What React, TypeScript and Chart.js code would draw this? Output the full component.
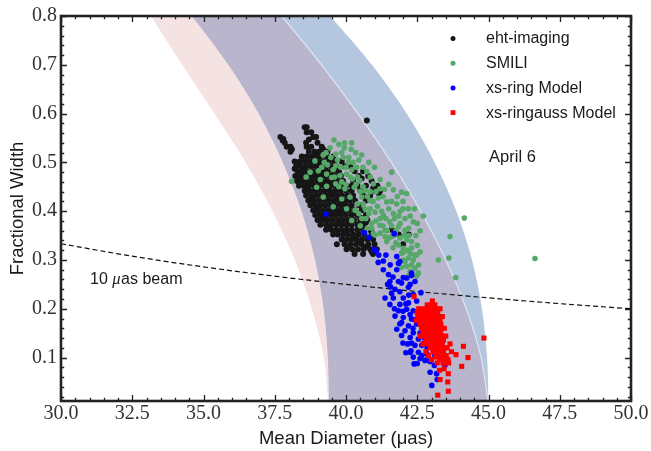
import React, { useEffect, useRef } from 'react';
import { Chart, registerables } from 'chart.js';

Chart.register(...registerables);

const X_TICKS = [30, 32.5, 35, 37.5, 40, 42.5, 45, 47.5, 50];
const Y_TICKS = [0.1, 0.2, 0.3, 0.4, 0.5, 0.6, 0.7, 0.8];
const X_MIN = 30, X_MAX = 50, Y_MIN = 0.011, Y_MAX = 0.8;
const X_MINOR_STEP = 0.5, Y_MINOR_STEP = 0.02;

const SERIES_LABELS = ['eht-imaging', 'SMILI', 'xs-ring Model', 'xs-ringauss Model'];
const X_TITLE = 'Mean Diameter (\u03bcas)';
const Y_TITLE = 'Fractional Width';
const DATE_LABEL = 'April 6';
const BEAM_LABEL = ['10 ', '\u03bc', 'as beam'];

// eht-imaging: rows of [y, x1, x2, ...]
const ehtRows: number[][] = [
  [0.586, 40.73],
  [0.572, 38.55, 38.62],
  [0.562, 38.62, 38.78],
  [0.552, 37.70, 38.85, 38.95],
  [0.545, 37.78],
  [0.540, 37.85, 38.6, 39.0],
  [0.532, 37.92, 38.05, 38.62, 38.78, 39.15],
  [0.522, 38.05, 38.7, 38.9, 39.05, 39.35],
  [0.512, 38.45, 38.62, 38.8, 38.95, 39.1, 39.3, 39.55],
  [0.502, 38.2, 38.38, 38.55, 38.72, 38.88, 39.05, 39.22, 39.4, 39.6, 39.85],
  [0.492, 38.25, 38.42, 38.6, 38.78, 38.95, 39.12, 39.3, 39.48, 39.65, 39.95, 40.15],
  [0.482, 38.3, 38.48, 38.65, 38.82, 39.0, 39.18, 39.35, 39.55, 39.75, 40.3, 40.6],
  [0.472, 38.22, 38.4, 38.58, 38.75, 38.92, 39.1, 39.28, 39.46, 39.64, 39.82, 40.45, 40.78],
  [0.462, 38.28, 38.45, 38.62, 38.8, 38.98, 39.16, 39.34, 39.52, 39.7, 39.9, 40.25, 40.9],
  [0.452, 38.35, 38.52, 38.7, 38.88, 39.06, 39.24, 39.42, 39.6, 39.8, 40.0, 40.4, 40.7, 41.1],
  [0.442, 38.55, 38.72, 38.9, 39.08, 39.26, 39.44, 39.62, 39.8, 40.0, 40.2, 40.5, 41.0, 41.2],
  [0.432, 38.6, 38.78, 38.96, 39.14, 39.32, 39.5, 39.68, 39.86, 40.05, 40.25, 40.6, 40.85],
  [0.422, 38.68, 38.86, 39.04, 39.22, 39.4, 39.58, 39.76, 39.94, 40.12, 40.32, 40.7],
  [0.412, 38.75, 38.92, 39.1, 39.28, 39.46, 39.64, 39.82, 40.0, 40.2, 40.45],
  [0.402, 38.85, 39.02, 39.2, 39.38, 39.56, 39.74, 39.92, 40.1, 40.3, 40.55],
  [0.392, 38.92, 39.1, 39.28, 39.46, 39.64, 39.82, 40.0, 40.2, 40.4, 40.7],
  [0.382, 39.0, 39.18, 39.36, 39.54, 39.72, 39.9, 40.08, 40.28, 40.5, 40.75],
  [0.372, 39.1, 39.3, 39.48, 39.66, 39.84, 40.02, 40.2, 40.4, 40.62],
  [0.362, 39.3, 39.48, 39.66, 39.84, 40.02, 40.2, 40.4, 40.6, 40.85, 41.6],
  [0.352, 39.55, 39.72, 39.9, 40.08, 40.26, 40.45, 40.65, 40.9, 41.85, 42.2],
  [0.342, 39.85, 40.02, 40.2, 40.38, 40.56, 40.75, 40.95],
  [0.332, 39.68, 39.95, 40.15, 40.35, 40.55, 40.78, 41.0, 42.0],
  [0.322, 40.02, 40.22, 40.42, 40.62, 40.85, 41.08],
  [0.312, 40.3, 40.6, 40.95],
];
const ehtExtra: number[][] = [
  [38.3, 0.497], [38.5, 0.487], [38.7, 0.477], [38.9, 0.467], [39.1, 0.457], [39.3, 0.447],
  [39.5, 0.437], [39.7, 0.427], [39.9, 0.417], [40.1, 0.407], [40.3, 0.397], [40.5, 0.387],
  [40.7, 0.377], [40.9, 0.357], [40.3, 0.347], [40.5, 0.337], [40.1, 0.327], [40.7, 0.327],
  [40.9, 0.317], [39.4, 0.367], [39.2, 0.387], [39.0, 0.407], [38.8, 0.427], [38.6, 0.447],
  [38.4, 0.467], [38.2, 0.487], [38.9, 0.507], [39.2, 0.527], [38.7, 0.547], [38.1, 0.527],
  [37.8, 0.548], [39.6, 0.397], [39.8, 0.377], [40.0, 0.357], [40.6, 0.362], [40.2, 0.452],
  [40.55, 0.467], [40.95, 0.447], [41.15, 0.437],
];

// SMILI: [x, y]
const smiliPts: number[][] = [
  [39.58, 0.546], [39.44, 0.530], [39.75, 0.537], [39.94, 0.530], [40.18, 0.527], [40.34, 0.520],
  [40.55, 0.515], [39.64, 0.517], [39.91, 0.510], [38.91, 0.503], [39.24, 0.500], [39.47, 0.510],
  [40.08, 0.500], [39.64, 0.493], [39.82, 0.490], [40.37, 0.490], [40.73, 0.481], [41.60, 0.480],
  [38.74, 0.480], [39.03, 0.483], [39.32, 0.476], [39.50, 0.469], [39.79, 0.473], [40.02, 0.476],
  [40.22, 0.466], [40.49, 0.463], [40.96, 0.456], [38.09, 0.461], [38.97, 0.449], [39.32, 0.451],
  [39.64, 0.456], [39.96, 0.446], [40.29, 0.449], [40.67, 0.442], [41.19, 0.446], [41.66, 0.444],
  [41.95, 0.439], [42.13, 0.436], [39.20, 0.429], [39.85, 0.425], [40.14, 0.429], [40.55, 0.429],
  [40.84, 0.422], [41.13, 0.427], [41.43, 0.419], [41.78, 0.415], [42.19, 0.405], [42.71, 0.390],
  [39.55, 0.409], [40.02, 0.405], [40.32, 0.402], [40.67, 0.405], [41.02, 0.398], [41.31, 0.392],
  [41.66, 0.395], [42.07, 0.385], [40.20, 0.381], [40.55, 0.385], [40.90, 0.375], [41.19, 0.371],
  [41.54, 0.378], [41.84, 0.368], [40.67, 0.358], [41.02, 0.351], [41.37, 0.348], [42.13, 0.341],
  [41.95, 0.314], [42.25, 0.314], [42.48, 0.310], [42.07, 0.297], [42.36, 0.300], [42.13, 0.287],
  [42.42, 0.283], [42.54, 0.273], [42.25, 0.277], [42.19, 0.267], [42.48, 0.267], [41.84, 0.331],
  [42.01, 0.324], [41.43, 0.338], [41.60, 0.348], [41.37, 0.361], [40.96, 0.354], [41.72, 0.351],
  [42.19, 0.304], [42.36, 0.378], [42.07, 0.361], [42.30, 0.338], [42.60, 0.317],
  [44.15, 0.386], [43.65, 0.348], [43.61, 0.304], [43.24, 0.300], [43.85, 0.264], [46.63, 0.303],
  [39.10, 0.465], [40.00, 0.455], [40.40, 0.470], [40.60, 0.450],
  [40.85, 0.440], [40.40, 0.415], [40.80, 0.395], [41.10, 0.410], [41.30, 0.430], [41.50, 0.405],
  [40.45, 0.395], [40.90, 0.365], [41.20, 0.385], [41.45, 0.360], [41.70, 0.385], [41.90, 0.400],
  [41.60, 0.420], [42.40, 0.405], [39.30, 0.520], [39.85, 0.520], [40.10, 0.510], [38.60, 0.470],
  [39.15, 0.490], [40.60, 0.490], [40.25, 0.500], [41.90, 0.345], [42.20, 0.350], [41.90, 0.375],
  [42.45, 0.350], [42.00, 0.300], [42.30, 0.325],
  [39.35, 0.495], [39.55, 0.485], [39.70, 0.505], [40.00, 0.490], [40.20, 0.485], [40.45, 0.505],
  [40.15, 0.470], [40.35, 0.455], [39.85, 0.460], [39.60, 0.470],
  [39.75, 0.450], [40.50, 0.440], [40.75, 0.430],
  [40.95, 0.420], [41.05, 0.440], [41.35, 0.445], [40.60, 0.415], [40.85, 0.405], [41.25, 0.400],
  [41.40, 0.385], [41.05, 0.380], [40.70, 0.385], [40.50, 0.370], [40.75, 0.365],
  [41.30, 0.370], [41.60, 0.370], [41.75, 0.360], [41.50, 0.345], [41.20, 0.355], [41.75, 0.335],
  [42.05, 0.350], [41.65, 0.325], [41.95, 0.285], [42.30, 0.290], [42.40, 0.310], [42.55, 0.290],
  [42.00, 0.315], [42.15, 0.320], [42.50, 0.330], [41.80, 0.430], [42.00, 0.420], [41.50, 0.455],
  [41.20, 0.465], [40.85, 0.470], [41.00, 0.490], [40.80, 0.500], [39.95, 0.540], [40.20, 0.540],
  [39.20, 0.515],
  [42.25, 0.390], [42.50, 0.375], [42.60, 0.360], [42.20, 0.365], [41.85, 0.390], [42.00, 0.405],
];

// xs-ring Model: [x, y]
const xsRingPts: number[][] = [
  [39.30, 0.394], [40.64, 0.356], [40.81, 0.346], [41.69, 0.354], [40.98, 0.322], [41.05, 0.319],
  [41.13, 0.295], [41.31, 0.298], [41.31, 0.280], [41.49, 0.270], [41.78, 0.280], [41.84, 0.293],
  [41.78, 0.307], [41.89, 0.297], [41.46, 0.250], [41.84, 0.256], [42.01, 0.264], [42.30, 0.268],
  [42.42, 0.256], [42.19, 0.244], [41.72, 0.240], [41.89, 0.235], [41.54, 0.256], [41.95, 0.253],
  [42.13, 0.263], [42.30, 0.273], [41.37, 0.222], [41.66, 0.222], [42.01, 0.222], [42.36, 0.229],
  [42.63, 0.233], [41.54, 0.209], [41.89, 0.209], [42.19, 0.212], [42.48, 0.216], [41.84, 0.196],
  [42.13, 0.199], [42.36, 0.196], [41.72, 0.185], [42.01, 0.182], [42.30, 0.179], [41.89, 0.169],
  [42.19, 0.165], [42.48, 0.169], [41.78, 0.158], [42.07, 0.155], [42.36, 0.151], [42.66, 0.155],
  [41.95, 0.145], [42.25, 0.141], [42.54, 0.138], [42.16, 0.128], [42.42, 0.125], [42.71, 0.128],
  [42.25, 0.111], [42.54, 0.111], [42.83, 0.108], [42.36, 0.101], [42.66, 0.104], [42.77, 0.094],
  [42.39, 0.087], [43.12, 0.104], [43.10, 0.084], [43.18, 0.067], [43.01, 0.043], [43.47, 0.084],
  [42.81, 0.095], [42.28, 0.114], [42.66, 0.125], [42.95, 0.070], [43.20, 0.055],
  [41.60, 0.232], [42.20, 0.228], [41.70, 0.200], [42.00, 0.195], [42.25, 0.188], [42.55, 0.190],
  [42.40, 0.178], [41.95, 0.172], [42.35, 0.160], [42.60, 0.150], [42.00, 0.130], [42.30, 0.130],
  [42.85, 0.120], [42.60, 0.098], [42.95, 0.092], [42.50, 0.088], [41.56, 0.245], [42.25, 0.250],
  [41.65, 0.265], [41.55, 0.290], [41.15, 0.310], [41.40, 0.310], [42.10, 0.210], [42.75, 0.140],
  [42.10, 0.110],
];

// xs-ringauss Model: rows of [y, x1, x2, ...]
const xsRingaussRows: number[][] = [
  [0.225, 42.39],
  [0.216, 43.03],
  [0.208, 42.85, 43.0, 43.12],
  [0.200, 42.55, 42.68, 42.8, 42.92, 43.05, 43.15, 43.3],
  [0.192, 42.5, 42.62, 42.75, 42.88, 43.0, 43.12, 43.22],
  [0.184, 42.52, 42.65, 42.78, 42.9, 43.02, 43.14, 43.26, 43.38],
  [0.176, 42.47, 42.55, 42.68, 42.8, 42.92, 43.05, 43.17, 43.3],
  [0.168, 42.6, 42.72, 42.85, 42.97, 43.1, 43.22, 43.33],
  [0.160, 42.65, 42.78, 42.9, 43.02, 43.14, 43.26, 43.36, 43.45],
  [0.152, 42.7, 42.82, 42.95, 43.07, 43.2, 43.32],
  [0.144, 42.6, 42.75, 42.88, 43.0, 43.12, 43.24, 43.38, 43.5],
  [0.136, 42.8, 42.92, 43.05, 43.17, 43.3, 43.42],
  [0.128, 42.7, 42.88, 43.0, 43.12, 43.25, 43.38, 43.65],
  [0.120, 42.95, 43.08, 43.2, 43.32, 43.46, 43.55],
  [0.112, 42.8, 43.05, 43.18, 43.3, 43.42, 43.7],
  [0.104, 42.9, 43.15, 43.28, 43.4, 43.52],
  [0.096, 43.0, 43.3, 43.45, 43.58],
  [0.089, 43.2, 43.4, 43.6],
];
const xsRingaussOutliers: number[][] = [
  [44.84, 0.140], [44.12, 0.123], [44.28, 0.100], [44.06, 0.082], [43.86, 0.106], [43.59, 0.067],
  [43.57, 0.050], [43.30, 0.055], [43.59, 0.031], [43.22, 0.023], [43.28, 0.074], [43.44, 0.077],
  [43.18, 0.101], [43.47, 0.089],
];

// 10 uas beam line
const beamX = [30, 32, 34, 36, 38, 40, 42, 44, 46, 48, 50];
const beamY = [0.3333, 0.3125, 0.2941, 0.2778, 0.2632, 0.25, 0.2381, 0.2273, 0.2174, 0.2083, 0.2];

// Band edges: x values at edgeY, bottom to top
const edgeY = [0.0, 0.1, 0.2, 0.3, 0.4, 0.5, 0.6, 0.7, 0.8, 0.82];
const edgeAx = [39.38, 39.22, 38.80, 38.20, 37.42, 36.48, 35.38, 34.25, 33.15, 32.88];
const edgeBx = [39.40, 39.36, 39.21, 38.91, 38.44, 37.78, 36.93, 35.87, 34.59, 34.28];
const edgeCx = [45.00, 44.74, 44.22, 43.50, 42.62, 41.59, 40.42, 39.14, 37.74, 37.40];
const edgeDx = [45.00, 44.95, 44.77, 44.42, 43.87, 43.11, 42.13, 40.91, 39.44, 39.10];

const PINK = '#f5e3e3';
const PURPLE = '#b8b5cd';
const LIGHTBLUE = '#b5c6df';
const FRAME = '#222222';
const SANS = '"Liberation Sans", Arial, sans-serif';
const SERIF = '"Liberation Serif", "Times New Roman", serif';

function rowsToPoints(rows: number[][]) {
  return rows.flatMap(([y, ...xs]) => xs.map((x) => ({ x, y })));
}
function pairsToPoints(pairs: number[][]) {
  return pairs.map(([x, y]) => ({ x, y }));
}

function splinePath(ctx: CanvasRenderingContext2D, pts: number[][], move: boolean) {
  if (move) ctx.moveTo(pts[0][0], pts[0][1]);
  else ctx.lineTo(pts[0][0], pts[0][1]);
  for (let i = 0; i < pts.length - 1; i++) {
    const p0 = pts[Math.max(i - 1, 0)];
    const p1 = pts[i];
    const p2 = pts[i + 1];
    const p3 = pts[Math.min(i + 2, pts.length - 1)];
    ctx.bezierCurveTo(
      p1[0] + (p2[0] - p0[0]) / 6, p1[1] + (p2[1] - p0[1]) / 6,
      p2[0] - (p3[0] - p1[0]) / 6, p2[1] - (p3[1] - p1[1]) / 6,
      p2[0], p2[1]
    );
  }
}

const bandsPlugin = {
  id: 'bands',
  beforeDatasetsDraw(chart: any) {
    const { ctx, chartArea, scales } = chart;
    const xs = scales.x, ys = scales.y;
    const px = (xv: number[]) => xv.map((x, i) => [xs.getPixelForValue(x), ys.getPixelForValue(edgeY[i])]);
    const A = px(edgeAx), B = px(edgeBx), C = px(edgeCx), D = px(edgeDx);
    ctx.save();
    ctx.beginPath();
    ctx.rect(chartArea.left, chartArea.top, chartArea.right - chartArea.left, chartArea.bottom - chartArea.top);
    ctx.clip();
    const region = (L: number[][], R: number[][], color: string) => {
      ctx.beginPath();
      splinePath(ctx, L, true);
      splinePath(ctx, [...R].reverse(), false);
      ctx.closePath();
      ctx.fillStyle = color;
      ctx.fill();
    };
    region(A, B, PINK);
    region(B, C, PURPLE);
    region(C, D, LIGHTBLUE);
    ctx.beginPath();
    splinePath(ctx, C, true);
    ctx.strokeStyle = 'rgba(222,230,242,0.95)';
    ctx.lineWidth = 1.2;
    ctx.stroke();
    ctx.restore();
  },
};

const framePlugin = {
  id: 'frameTicks',
  afterDatasetsDraw(chart: any) {
    const { ctx, chartArea, scales } = chart;
    const { left, right, top, bottom } = chartArea;
    const xs = scales.x, ys = scales.y;
    ctx.save();
    ctx.strokeStyle = FRAME;
    ctx.lineWidth = 1.3;
    ctx.beginPath();
    const nX = Math.round((X_MAX - X_MIN) / X_MINOR_STEP);
    for (let i = 0; i <= nX; i++) {
      const v = X_MIN + i * X_MINOR_STEP;
      const major = X_TICKS.some((t) => Math.abs(t - v) < 1e-6);
      const len = major ? 6 : 3.2;
      const p = Math.round(xs.getPixelForValue(v)) + 0.5;
      ctx.moveTo(p, bottom); ctx.lineTo(p, bottom - len);
      ctx.moveTo(p, top); ctx.lineTo(p, top + len);
    }
    const nY = Math.round(Y_MAX / Y_MINOR_STEP);
    for (let i = 1; i <= nY; i++) {
      const v = i * Y_MINOR_STEP;
      if (v < Y_MIN) continue;
      const major = Y_TICKS.some((t) => Math.abs(t - v) < 1e-6);
      const len = major ? 6 : 3.2;
      const p = Math.round(ys.getPixelForValue(v)) + 0.5;
      ctx.moveTo(left, p); ctx.lineTo(left + len, p);
      ctx.moveTo(right, p); ctx.lineTo(right - len, p);
    }
    ctx.stroke();
    ctx.lineWidth = 2.6;
    ctx.strokeRect(left, top, right - left, bottom - top);

    // legend
    const lx = right - 178, tx = right - 145;
    ctx.font = `16px ${SANS}`;
    ctx.textBaseline = 'middle';
    ctx.textAlign = 'left';
    chart.data.datasets.slice(0, 4).forEach((ds: any, i: number) => {
      const cy = top + 22.5 + i * 24.7;
      ctx.fillStyle = ds.backgroundColor;
      if (ds.pointStyle === 'rect') {
        ctx.fillRect(lx - 2.4, cy - 2.4, 4.8, 4.8);
      } else {
        ctx.beginPath();
        ctx.arc(lx, cy, 2.5, 0, Math.PI * 2);
        ctx.fill();
      }
      ctx.fillStyle = '#1a1a1a';
      ctx.fillText(ds.label, tx, cy + 0.5);
    });

    // annotations
    ctx.textBaseline = 'alphabetic';
    ctx.fillStyle = '#1a1a1a';
    ctx.font = `16.5px ${SANS}`;
    ctx.fillText(DATE_LABEL, xs.getPixelForValue(45.02), ys.getPixelForValue(0.5));
    let bx = xs.getPixelForValue(31.02);
    const by = ys.getPixelForValue(0.2503);
    BEAM_LABEL.forEach((s, i) => {
      ctx.font = i === 1 ? `italic 16.5px ${SERIF}` : `16px ${SANS}`;
      ctx.fillText(s, bx, by);
      bx += ctx.measureText(s).width + (i === 1 ? 0.5 : 0);
    });
    ctx.restore();
  },
};

export default function App() {
  const ref = useRef<HTMLCanvasElement | null>(null);
  useEffect(() => {
    if (!ref.current) return;
    const tickFont = { family: SERIF, size: 20 };
    const titleFont = { family: SANS, size: 18.5 };
    const chart = new Chart(ref.current, {
      type: 'scatter',
      data: {
        datasets: [
          { label: SERIES_LABELS[0], data: [...rowsToPoints(ehtRows), ...pairsToPoints(ehtExtra)], backgroundColor: '#161616', pointRadius: 3.0, pointBorderWidth: 0, order: 4 },
          { label: SERIES_LABELS[1], data: pairsToPoints(smiliPts), backgroundColor: '#55a868', pointRadius: 2.8, pointBorderWidth: 0, order: 3 },
          { label: SERIES_LABELS[2], data: pairsToPoints(xsRingPts), backgroundColor: '#0000ff', pointRadius: 2.8, pointBorderWidth: 0, order: 2 },
          { label: SERIES_LABELS[3], data: [...rowsToPoints(xsRingaussRows), ...pairsToPoints(xsRingaussOutliers)], backgroundColor: '#ff0000', pointStyle: 'rect', pointRadius: 3.6, pointBorderWidth: 0, order: 1 },
          { type: 'line', label: 'beam', data: beamX.map((x, i) => ({ x, y: beamY[i] })), borderColor: '#111111', borderWidth: 1.2, borderDash: [5, 3], pointRadius: 0, fill: false, showLine: true, tension: 0, order: 5 } as any,
        ],
      },
      options: {
        responsive: false,
        animation: false,
        events: [],
        layout: { padding: { top: 12, right: 20, left: 0, bottom: 0 } },
        plugins: { legend: { display: false }, tooltip: { enabled: false } },
        scales: {
          x: {
            type: 'linear', min: X_MIN, max: X_MAX,
            grid: { display: false, drawTicks: false },
            border: { display: false },
            ticks: { font: tickFont, color: '#333', padding: 1, autoSkip: false, maxRotation: 0, callback: (v: any) => Number(v).toFixed(1) },
            afterBuildTicks: (s: any) => { s.ticks = X_TICKS.map((value) => ({ value })); },
            afterFit: (s: any) => { s.height = 50; },
            title: { display: true, text: X_TITLE, font: titleFont, color: '#1a1a1a', padding: { top: 0, bottom: 1 } },
          },
          y: {
            type: 'linear', min: Y_MIN, max: Y_MAX,
            grid: { display: false, drawTicks: false },
            border: { display: false },
            ticks: { font: tickFont, color: '#333', padding: 4, autoSkip: false, callback: (v: any) => Number(v).toFixed(1) },
            afterBuildTicks: (s: any) => { s.ticks = Y_TICKS.map((value) => ({ value })); },
            afterFit: (s: any) => { s.width = 61; },
            title: { display: true, text: Y_TITLE, font: titleFont, color: '#1a1a1a', padding: { top: 7, bottom: 0 } },
          },
        },
      },
      plugins: [bandsPlugin, framePlugin],
    } as any);
    return () => chart.destroy();
  }, []);
  return (
    <canvas ref={ref} width={651} height={451} style={{ position: 'fixed', left: 0, top: 0, width: 651, height: 451 }} />
  );
}
